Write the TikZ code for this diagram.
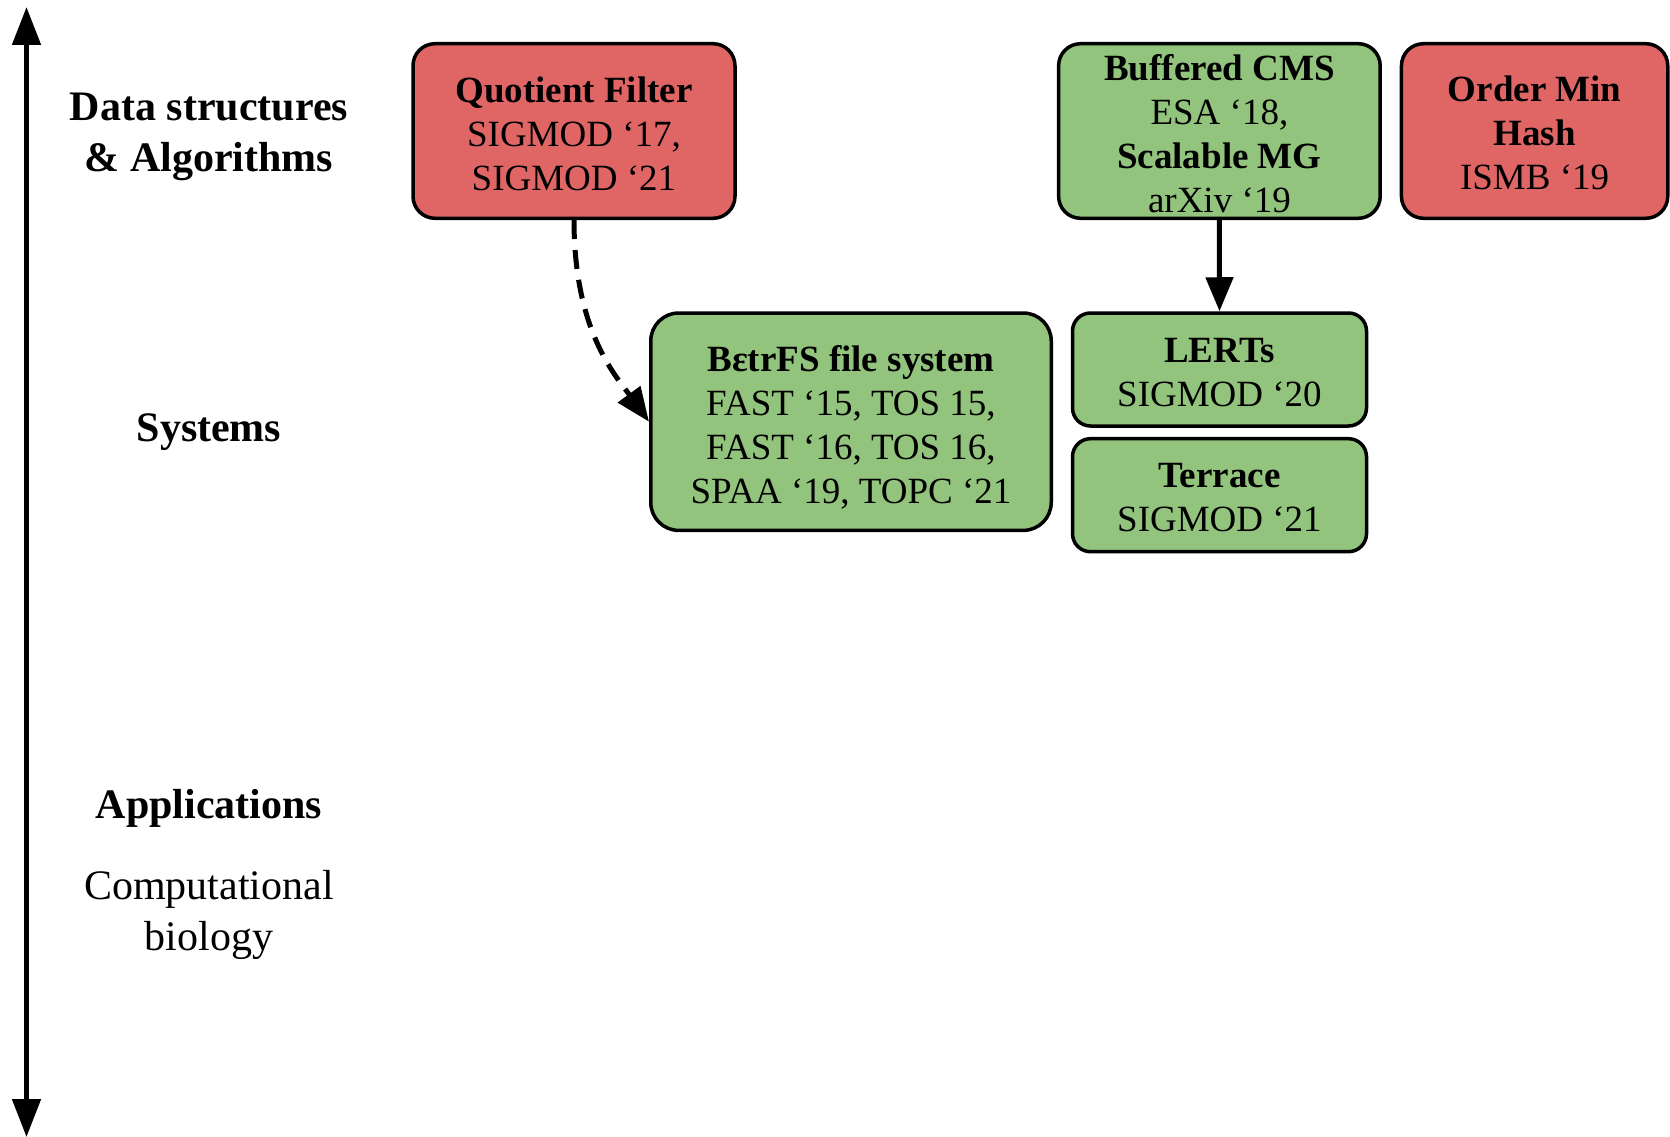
\documentclass[tikz,border=0pt]{standalone}
\usepackage{fontspec}
\setmainfont{Liberation Serif}
\usetikzlibrary{arrows.meta}
\definecolor{boxred}{HTML}{E06666}
\definecolor{boxgreen}{HTML}{93C47D}
\begin{document}
\begin{tikzpicture}[x=1pt,y=-1pt,
 pbox/.style={draw=black, line width=3.5pt, inner sep=0pt},
 redbox/.style={pbox, fill=boxred},
 greenbox/.style={pbox, fill=boxgreen},
 boxtxt/.style={inner sep=0pt, align=center, font=\fontsize{37}{44}\selectfont},
 lbl/.style={align=center, font=\fontsize{42}{51}\selectfont},
 conn/.style={line width=5pt, -{Triangle[length=34pt,width=27pt]}},
 axis/.style={line width=5pt, {Triangle[length=38pt,width=28pt]}-{Triangle[length=38pt,width=28pt]}},
]
\useasboundingbox (0,0) rectangle (1670,1137);

% axis
\coordinate (atop) at (26.5,7);
\coordinate (abot) at (26.5,1137);
\draw[axis] (atop) -- (abot);

% left labels
\node[lbl] (dsa) at (209,137) {\textbf{Data structures}\\\textbf{\& Algorithms}};
\node[lbl] (sys) at (209,432) {\textbf{Systems}};
\node[lbl] (app) at (209,808) {\textbf{Applications}};
\node[lbl] (cb) at (209,915) {Computational\\biology};

% boxes
\node[redbox, minimum width=322pt, minimum height=174.6pt, rounded corners=22pt] (qf) at (574,131) {};
\node[boxtxt] (qft) at (574,133.7) {\textbf{Quotient Filter}\\SIGMOD ‘17,\\SIGMOD ‘21};

\node[greenbox, minimum width=321.6pt, minimum height=174.6pt, rounded corners=22pt] (bcms) at (1219.4,131) {};
\node[boxtxt] (bcmst) at (1219.4,133.2) {\textbf{Buffered CMS}\\ESA ‘18,\\\textbf{Scalable MG}\\arXiv ‘19};

\node[redbox, minimum width=266.3pt, minimum height=174.6pt, rounded corners=22pt] (omh) at (1534.6,131) {};
\node[boxtxt] (omht) at (1534.6,133.2) {\textbf{Order Min}\\\textbf{Hash}\\ISMB ‘19};

\node[greenbox, minimum width=400.5pt, minimum height=217.4pt, rounded corners=28pt] (betr) at (851,421.7) {};
\node[boxtxt] (betrt) at (851,427.7) {\textbf{BεtrFS file system}\\FAST ‘15, TOS 15,\\FAST ‘16, TOS 16,\\SPAA ‘19, TOPC ‘21};

\node[greenbox, minimum width=294pt, minimum height=113pt, rounded corners=18pt] (lerts) at (1219.5,369.5) {};
\node[boxtxt] (lertst) at (1219.5,372.7) {\textbf{LERTs}\\SIGMOD ‘20};

\node[greenbox, minimum width=294pt, minimum height=113pt, rounded corners=18pt] (terr) at (1219.5,495.2) {};
\node[boxtxt] (terrt) at (1219.5,497.9) {\textbf{Terrace}\\SIGMOD ‘21};

% connectors
\draw[conn, dash pattern=on 19pt off 11pt] (qf.south) .. controls (574,330) and (615,375) .. (betr.west);
\draw[conn] (bcms.south) -- (lerts.north);
\end{tikzpicture}
\end{document}
